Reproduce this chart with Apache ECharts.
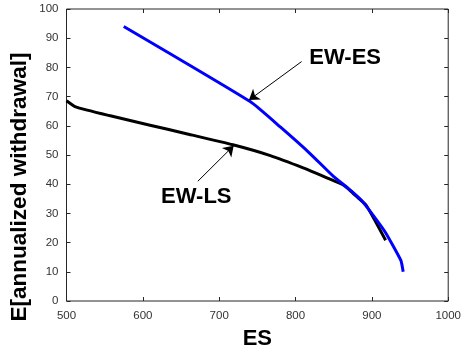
<!DOCTYPE html>
<html>
<head>
<meta charset="utf-8">
<script src="https://cdn.jsdelivr.net/npm/echarts@6/dist/echarts.min.js"></script>
<style>
    html, body { margin: 0; padding: 0; background: #fff; }
</style>
</head>
<body>
<div id="main" style="width: 464px; height: 355px;"></div>
<script>
// EW-ES curve (blue)
let esX = [575, 741, 780, 819, 850, 869, 886, 901, 918, 938, 941]
let esY = [94, 68.2, 59.6, 50.5, 42.6, 38.6, 34.6, 29.6, 23.4, 13.9, 10]
// EW-LS curve (black)
let lsX = [500, 512, 556, 608, 657, 718, 767, 810, 841, 862, 873, 882, 893, 918]
let lsY = [68.6, 66.5, 63.5, 60.3, 57.3, 53.5, 49.8, 45.6, 42.2, 39.8, 37.5, 35.3, 32.6, 20.8]

let xTicks = [500, 600, 700, 800, 900, 1000]
let yTicks = [0, 10, 20, 30, 40, 50, 60, 70, 80, 90, 100]

// annotations: text position, arrow tail, arrow head
let esNote = { text: 'EW-ES', at: [865, 83.4], from: [808, 82], to: [739, 68.8] }
let lsNote = { text: 'EW-LS', at: [670, 35.8], from: [672, 41], to: [719, 53.2] }

function pairs(xs, ys) {
    let out = []
    for (let i = 0; i < xs.length; i++) {
        out.push([xs[i], ys[i]])
    }
    return out
}

function note(n) {
    return {
        coord: n.at,
        symbol: 'circle',
        symbolSize: 0,
        itemStyle: { color: 'transparent' },
        label: {
            show: true,
            position: 'inside',
            formatter: n.text,
            color: '#000',
            fontSize: 22,
            fontWeight: 'bold',
            fontFamily: 'Liberation Sans'
        }
    }
}

let chart = echarts.init(document.getElementById('main'))

let tickLabel = {
    color: '#333',
    fontSize: 11.5,
    fontFamily: 'Liberation Sans',
    formatter: function (v) { return String(v) }
}

let axisBase = {
    type: 'value',
    splitLine: { show: false },
    axisLine: { show: false, onZero: false },
    axisTick: { show: true, inside: true, length: 4, lineStyle: { color: '#262626' } }
}

let option = {
    animation: false,
    grid: {
        left: 66.5,
        right: 11,
        top: 9,
        bottom: 51,
        show: true,
        borderColor: '#262626',
        borderWidth: 1,
        backgroundColor: 'transparent'
    },
    xAxis: [
        Object.assign({}, axisBase, {
            position: 'bottom',
            min: xTicks[0],
            max: xTicks[xTicks.length - 1],
            interval: 100,
            axisLabel: Object.assign({ margin: 9 }, tickLabel),
            name: 'ES',
            nameLocation: 'middle',
            nameGap: 27,
            nameTextStyle: {
                color: '#000',
                fontSize: 22,
                fontWeight: 'bold',
                fontFamily: 'Liberation Sans'
            }
        }),
        Object.assign({}, axisBase, {
            position: 'top',
            min: xTicks[0],
            max: xTicks[xTicks.length - 1],
            interval: 100,
            axisLabel: { show: false }
        })
    ],
    yAxis: [
        Object.assign({}, axisBase, {
            position: 'left',
            min: yTicks[0],
            max: yTicks[yTicks.length - 1],
            interval: 10,
            axisLabel: Object.assign({ margin: 8 }, tickLabel)
        }),
        Object.assign({}, axisBase, {
            position: 'right',
            min: yTicks[0],
            max: yTicks[yTicks.length - 1],
            interval: 10,
            axisLabel: { show: false }
        })
    ],
    graphic: [
        {
            type: 'text',
            x: 20,
            y: 187,
            rotation: Math.PI / 2,
            style: {
                text: 'E[annualized withdrawal]',
                fill: '#000',
                fontSize: 22.5,
                fontWeight: 'bold',
                fontFamily: 'Liberation Sans',
                align: 'center',
                verticalAlign: 'middle'
            }
        }
    ],
    series: [
        {
            name: 'EW-LS',
            type: 'line',
            data: pairs(lsX, lsY),
            showSymbol: false,
            smooth: 0.15,
            lineStyle: { color: '#000', width: 3 },
            markLine: {
                silent: true,
                symbol: ['none', 'arrow'],
                symbolSize: 10,
                lineStyle: { color: '#000', width: 1, type: 'solid' },
                label: { show: false },
                data: [[{ coord: lsNote.from }, { coord: lsNote.to }]]
            },
            markPoint: {
                silent: true,
                data: [note(lsNote)]
            }
        },
        {
            name: 'EW-ES',
            type: 'line',
            data: pairs(esX, esY),
            showSymbol: false,
            smooth: 0.15,
            lineStyle: { color: '#0000ff', width: 3 },
            markLine: {
                silent: true,
                symbol: ['none', 'arrow'],
                symbolSize: 10,
                lineStyle: { color: '#000', width: 1, type: 'solid' },
                label: { show: false },
                data: [[{ coord: esNote.from }, { coord: esNote.to }]]
            },
            markPoint: {
                silent: true,
                data: [note(esNote)]
            }
        }
    ]
}

chart.setOption(option)
</script>
</body>
</html>
